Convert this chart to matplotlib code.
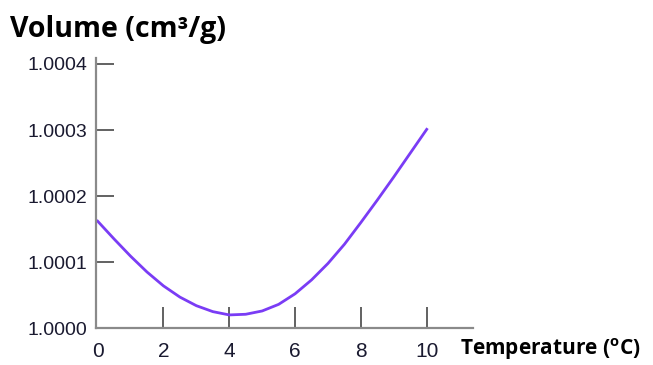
import numpy as np
import matplotlib.pyplot as plt
from matplotlib.ticker import FormatStrFormatter

# values
temperature = [0, 0.5, 1, 1.5, 2, 2.5, 3, 3.5, 4, 4.5, 5, 5.5, 6, 6.5, 7, 7.5, 8, 8.5, 9, 9.5, 10]
volume = [1.000162, 1.000135, 1.000109, 1.000085, 1.000064, 1.000047, 1.000034, 1.000025,
          1.000020, 1.000021, 1.000026, 1.000036, 1.000052, 1.000073, 1.000098, 1.000127,
          1.000160, 1.000194, 1.000229, 1.000265, 1.000301]
xticks = [0, 2, 4, 6, 8, 10]
yticks = [1.0000, 1.0001, 1.0002, 1.0003, 1.0004]

fig = plt.figure(figsize=(6.53, 3.65), dpi=100)
ax = fig.add_axes([0.147, 0.101, 0.577, 0.740])

ax.plot(temperature, volume, color='#7a3cf5', lw=2)

ax.set_xlim(-0.05, 11.4)
ax.set_ylim(1.0, 1.000409)
ax.set_xticks(xticks)
ax.set_yticks(yticks)
ax.yaxis.set_major_formatter(FormatStrFormatter('%.4f'))

for s in ['top', 'right']:
    ax.spines[s].set_visible(False)
for s in ['left', 'bottom']:
    ax.spines[s].set_color('#8a8a8a')
    ax.spines[s].set_linewidth(1.6)

ax.tick_params(axis='both', direction='in', color='#555555', width=1.3,
               labelcolor='#1a1a30')
ax.tick_params(axis='x', length=15, pad=10, labelsize=15)
ax.tick_params(axis='y', length=13, pad=6.5, labelsize=14)
for lbl in ax.get_xticklabels() + ax.get_yticklabels():
    lbl.set_family('Liberation Sans')
# the ticks at the origin sit on the other axis and are not drawn
ax.xaxis.get_major_ticks()[0].tick1line.set_visible(False)
ax.yaxis.get_major_ticks()[0].tick1line.set_visible(False)

fig.text(0.015, 0.899, 'Volume (cm³/g)', fontsize=20.5, fontweight='bold',
         family='Open Sans', ha='left', va='baseline')
fig.text(0.704, 0.027, r'Temperature ($\mathregular{^o}$C)', fontsize=15, fontweight='bold',
         family='Open Sans', ha='left', va='baseline')

fig.savefig('out.png', dpi=100)
